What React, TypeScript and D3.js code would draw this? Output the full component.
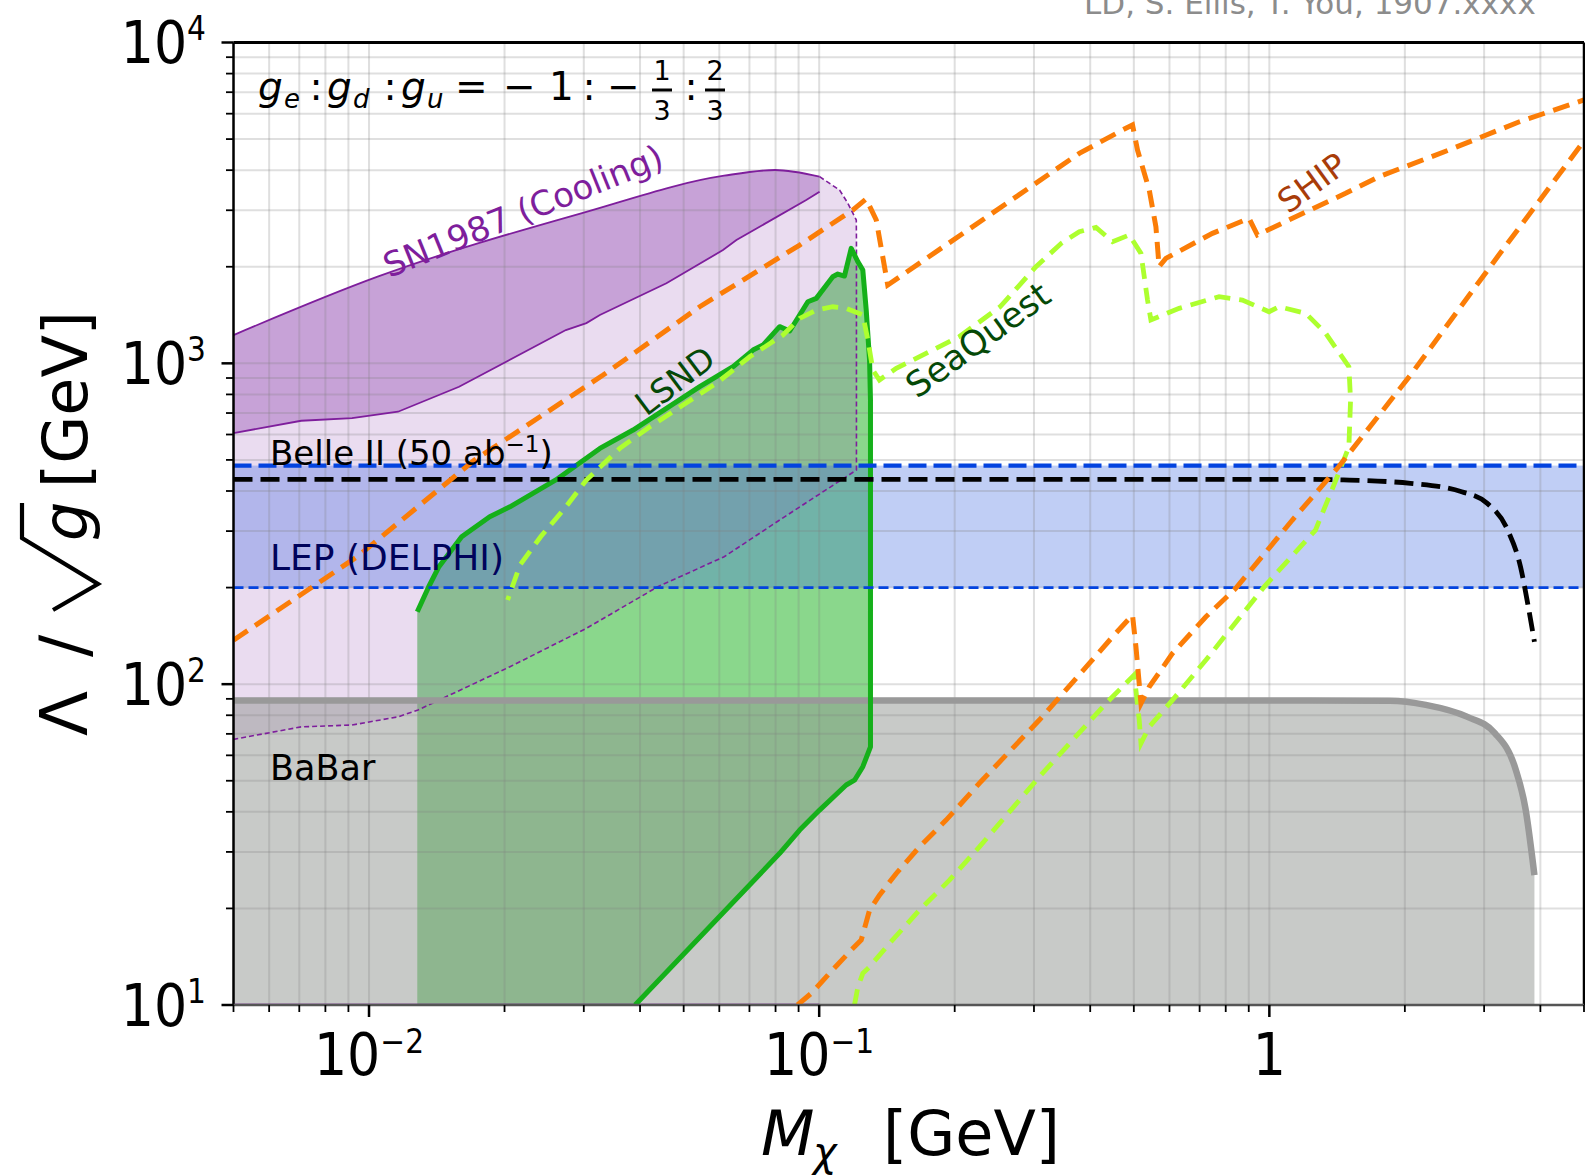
import React from 'react';
import * as d3 from 'd3';

type Pt = [number, number];

// [M_chi (GeV), Lambda / sqrt(g) (GeV)]
const snUpper: Pt[] = [
  [0.005, 1225], [0.01045, 1862], [0.0296, 2935], [0.0615, 3844], [0.0798, 4005], [0.1002, 3817],
];
const snEdge: Pt[] = [
  [0.111, 3469], [0.1158, 3154], [0.1209, 2797], [0.121, 2423], [0.121, 465],
];
const snLower: Pt[] = [
  [0.0817, 324.8], [0.0615, 249.5], [0.0438, 201.2], [0.0304, 149.3], [0.02056, 113.3],
  [0.01285, 83.1], [0.0116, 79.1], [0.00917, 74.6], [0.00707, 73.6], [0.005, 67.3],
];
const snInner: Pt[] = [
  [0.005, 606.3], [0.00707, 662.3], [0.00917, 675.3], [0.0116, 706.5], [0.01585, 845.5],
  [0.02737, 1270], [0.0304, 1335], [0.03257, 1415], [0.04578, 1776], [0.06114, 2255],
  [0.06549, 2423], [0.0936, 3228], [0.1002, 3427],
];

const lsnd: Pt[] = [
  [0.0128, 168.2], [0.01357, 201.2], [0.0143, 232.3], [0.01606, 288], [0.01854, 332.5],
  [0.02056, 357], [0.026, 433], [0.03257, 543], [0.0386, 619.6], [0.04578, 723.9],
  [0.05428, 845.5], [0.06436, 976], [0.07128, 1100], [0.075, 1140], [0.08168, 1301],
  [0.086, 1261], [0.0905, 1415], [0.09438, 1556], [0.09854, 1594], [0.1072, 1862],
  [0.11, 1898], [0.1138, 1871], [0.1178, 2283], [0.1219, 2073], [0.125, 1953],
  [0.1272, 1466], [0.1294, 1024], [0.13, 768], [0.13, 63.8], [0.125, 55.3],
  [0.1198, 50.2], [0.1148, 48.5], [0.1002, 40.5], [0.0905, 35.1], [0.0817, 29.7], [0.039, 10],
];
const lsndFoot: Pt[] = [[0.0128, 10]];

const shipUpper: Pt[] = [
  [0.005, 137.2], [0.00941, 249.5], [0.01715, 499.4], [0.03311, 919.3], [0.05428, 1501],
  [0.0905, 2337], [0.1188, 3006], [0.1272, 3253], [0.1339, 2797], [0.142, 1754],
  [0.3783, 4513], [0.4719, 5337], [0.4966, 5533], [0.5095, 4621], [0.541, 3469],
  [0.5598, 2666], [0.569, 2001], [0.5889, 2124], [0.7475, 2542], [0.9016, 2831],
  [0.9406, 2512], [1.144, 2864], [1.477, 3388], [1.751, 3817], [2.504, 4621],
  [3.581, 5652], [5, 6620],
];
const shipLower: Pt[] = [
  [0.0895, 10], [0.096, 10.87], [0.1054, 12.55], [0.1168, 14.65], [0.124, 15.94],
  [0.1261, 17.34], [0.1294, 19.76], [0.1361, 22.0], [0.1483, 25.7], [0.167, 31.1],
  [0.1914, 37.7], [0.2269, 49.1], [0.3083, 77.3], [0.3981, 116.1], [0.4485, 140.5],
  [0.4966, 164.2], [0.5054, 130.8], [0.5186, 87.1], [0.541, 98.1], [0.6093, 124.7],
  [0.7229, 162.2], [0.842, 198.9], [1.125, 324.8], [1.425, 476], [2.058, 919],
  [3.234, 2176], [5, 4930],
];

const seaQuest: Pt[] = [
  [0.1198, 10], [0.1219, 11.39], [0.125, 12.55], [0.1294, 13.15], [0.1433, 15.56],
  [0.167, 19.76], [0.1947, 24.5], [0.2269, 31.1], [0.3083, 51.4], [0.3655, 66.96],
  [0.4335, 87.1], [0.501, 106.8], [0.514, 77.3], [0.5186, 65.4], [0.541, 73.6],
  [0.6093, 89.2], [0.7229, 118.9], [0.8565, 160.4], [0.9734, 201], [1.266, 302],
  [1.406, 433], [1.502, 549.5], [1.515, 768], [1.502, 976], [1.334, 1240],
  [1.205, 1432], [1.051, 1501], [0.9986, 1448], [0.871, 1575], [0.7734, 1613],
  [0.6305, 1484], [0.5456, 1365], [0.5363, 1575], [0.5186, 2202], [0.4884, 2512],
  [0.4485, 2394], [0.4119, 2654], [0.3783, 2572], [0.345, 2366], [0.3031, 2001],
  [0.2523, 1501], [0.2046, 1210], [0.1483, 965], [0.1361, 887], [0.1316, 953],
  [0.1283, 1182], [0.125, 1415], [0.1148, 1484], [0.1072, 1501], [0.09854, 1466],
  [0.0905, 1381], [0.08308, 1225], [0.07009, 1048], [0.05911, 866.4], [0.04984, 741.3],
  [0.04204, 634], [0.03606, 543], [0.03041, 433], [0.02737, 357], [0.02406, 288],
  [0.02164, 235], [0.02032, 182.9],
];

const belle2: Pt[] = [
  [0.005, 435], [1.2, 435], [1.462, 433], [2.058, 422.6], [2.674, 398], [3.049, 366],
  [3.385, 302], [3.614, 232], [3.761, 174], [3.88, 135.6],
];
const babar: Pt[] = [
  [0.005, 89], [0.937, 89], [1.852, 88.8], [2.226, 86.2], [2.746, 79.2], [3.168, 70.4],
  [3.521, 54.5], [3.708, 40.8], [3.88, 25.4],
];
const babarFoot: Pt[] = [[3.88, 10], [0.005, 10]];

const lepBand = [200, 480];
const snFloor: Pt[] = [[0.005, 10], [0.1, 10]];

const yMajor = [10, 100, 1000, 10000];
const yMajorExp = ['1', '2', '3', '4'];
const xMajor = [0.01, 0.1, 1];
const xMajorBase = ['10', '10', '1'];
const xMajorExp = ['−2', '−1', ''];

const PLOT = { left: 233.5, right: 1584, top: 42.5, bottom: 1005 };
const FONT = "'DejaVu Sans', sans-serif";
const NARROW = "'DejaVu Sans Condensed', 'Liberation Sans Narrow', 'DejaVu Sans', sans-serif";

export default function App() {
  const x = d3.scaleLog().domain([0.005, 5]).range([PLOT.left, PLOT.right]);
  const y = d3.scaleLog().domain([10, 1e4]).range([PLOT.bottom, PLOT.top]);

  const line = d3.line<Pt>().x((d) => x(d[0])).y((d) => y(d[1]));
  const smooth = d3.line<Pt>().x((d) => x(d[0])).y((d) => y(d[1])).curve(d3.curveMonotoneX);
  const lineTo = (pts: Pt[]) => pts.map((d) => `L${x(d[0])},${y(d[1])}`).join('');

  const snLight = smooth(snUpper) + lineTo(snEdge) + lineTo(snLower) + 'Z';
  const snDark = smooth(snUpper) + lineTo([...snInner].reverse()) + 'Z';
  const snDashed = line([snUpper[snUpper.length - 1], ...snEdge, ...snLower]);
  const lsndArea = line(lsnd) + lineTo(lsndFoot) + 'Z';
  const babarArea = smooth(babar) + lineTo(babarFoot) + 'Z';

  const xTicks = x.ticks();
  const yTicks = y.ticks();
  const isMajor = (v: number) => Math.abs(Math.log10(v) - Math.round(Math.log10(v))) < 1e-6;

  return (
    <svg width={1585} height={1175} style={{ position: 'absolute', left: 0, top: 0, background: '#fff' }}>
      <defs>
        <clipPath id="plot-clip">
          <rect x={PLOT.left} y={PLOT.top} width={PLOT.right - PLOT.left} height={PLOT.bottom - PLOT.top} />
        </clipPath>
      </defs>

      <text x={1084} y={14} fontFamily={FONT} fontSize={31} fill="#8c8c8c">LD, S. Ellis, T. You, 1907.xxxx</text>

      <g clipPath="url(#plot-clip)">
        {/* filled regions */}
        <path d={lsndArea} fill="#15b01a" fillOpacity={0.5} />
        <path d={snLight} fill="rgb(150,80,180)" fillOpacity={0.2} />
        <path d={snDark} fill="rgb(150,80,180)" fillOpacity={0.42} />
        <path d={babarArea} fill="#919591" fillOpacity={0.5} />
        <rect x={PLOT.left} width={PLOT.right - PLOT.left} y={y(lepBand[1])} height={y(lepBand[0]) - y(lepBand[1])}
          fill="rgb(65,105,225)" fillOpacity={0.33} />

        {/* grid */}
        {xTicks.map((t, i) => (
          <line key={'gx' + i} x1={x(t)} x2={x(t)} y1={PLOT.top} y2={PLOT.bottom} stroke="#808080" strokeOpacity={0.25} strokeWidth={2} />
        ))}
        {yTicks.map((t, i) => (
          <line key={'gy' + i} x1={PLOT.left} x2={PLOT.right} y1={y(t)} y2={y(t)} stroke="#808080" strokeOpacity={0.25} strokeWidth={2} />
        ))}

        {/* curves */}
        <path d={smooth(snUpper)!} fill="none" stroke="#7e1e9c" strokeWidth={1.8} />
        <path d={line(snInner)!} fill="none" stroke="#7e1e9c" strokeWidth={1.8} />
        <path d={snDashed!} fill="none" stroke="#7e1e9c" strokeWidth={1.6} strokeDasharray="5,3" />
        <path d={line(snFloor)!} fill="none" stroke="#7e1e9c" strokeWidth={3} strokeOpacity={0.6} />
        <path d={smooth(babar)!} fill="none" stroke="#999999" strokeWidth={6.5} />
        <path d={line(lsnd)!} fill="none" stroke="#15b01a" strokeWidth={5} strokeLinejoin="round" />
        <line x1={PLOT.left} x2={PLOT.right} y1={y(lepBand[1])} y2={y(lepBand[1])} stroke="#0343df" strokeWidth={4.2} strokeDasharray="18,7" />
        <line x1={PLOT.left} x2={PLOT.right} y1={y(lepBand[0])} y2={y(lepBand[0])} stroke="#0343df" strokeWidth={2.8} strokeDasharray="10,5" />
        <path d={smooth(belle2)!} fill="none" stroke="#000" strokeWidth={4.8} strokeDasharray="19,8" />
        <path d={line(seaQuest)!} fill="none" stroke="#adff2f" strokeWidth={4.8} strokeDasharray="16,9" />
        <path d={line(shipLower)!} fill="none" stroke="#fb7d07" strokeWidth={5} strokeDasharray="17,9" />
        <path d={line(shipUpper)!} fill="none" stroke="#fb7d07" strokeWidth={5} strokeDasharray="17,9" />
      </g>

      {/* spines */}
      <line x1={PLOT.left} x2={PLOT.right} y1={PLOT.top} y2={PLOT.top} stroke="#000" strokeWidth={3} />
      <line x1={PLOT.left} x2={PLOT.left} y1={PLOT.top} y2={PLOT.bottom} stroke="#000" strokeWidth={2.5} />
      <line x1={PLOT.right} x2={PLOT.right} y1={PLOT.top} y2={PLOT.bottom} stroke="#000" strokeWidth={2.5} />
      <line x1={PLOT.left} x2={PLOT.right} y1={PLOT.bottom} y2={PLOT.bottom} stroke="#555" strokeWidth={2.5} />

      {/* ticks */}
      {yTicks.map((t, i) => (
        <line key={'ty' + i} x1={PLOT.left - (isMajor(t) ? 12 : 7.5)} x2={PLOT.left} y1={y(t)} y2={y(t)}
          stroke="#000" strokeWidth={isMajor(t) ? 2.5 : 1.8} />
      ))}
      {xTicks.map((t, i) => (
        <line key={'tx' + i} x1={x(t)} x2={x(t)} y1={PLOT.bottom} y2={PLOT.bottom + (isMajor(t) ? 12 : 7)}
          stroke="#000" strokeWidth={isMajor(t) ? 2.5 : 1.8} />
      ))}

      {/* tick labels */}
      {yMajor.map((v, i) => (
        <text key={'ly' + i} x={206} y={y(v) + 20.5} textAnchor="end" fontFamily={NARROW} fontSize={58} fill="#000">
          10<tspan fontSize={33} dy={-23}>{yMajorExp[i]}</tspan>
        </text>
      ))}
      {xMajor.map((v, i) => (
        <text key={'lx' + i} x={x(v)} y={1075} textAnchor="middle" fontFamily={NARROW} fontSize={58} fill="#000">
          {xMajorBase[i]}
          {xMajorExp[i] && <tspan fontSize={33} dy={-22}>{xMajorExp[i]}</tspan>}
        </text>
      ))}

      {/* axis labels */}
      <g fontFamily={FONT} fontSize={62} fill="#000">
        <text x={761} y={1155} fontStyle="italic">M</text>
        <text x={813} y={1166} fontStyle="italic" fontSize={40}>χ</text>
        <text x={883} y={1155}>[GeV]</text>

        <text transform="rotate(-90)" x={-736} y={87} fontSize={66}>Λ</text>
        <text transform="rotate(-90)" x={-657} y={87} fontSize={66}>/</text>
        <path d="M53,610 L98,584 L22,538 L22,503" fill="none" stroke="#000" strokeWidth={4.2} />
        <text transform="rotate(-90)" x={-541} y={87} fontStyle="italic">g</text>
        <text transform="rotate(-90)" x={-488} y={87}>[GeV]</text>
      </g>

      {/* coupling ratio */}
      <g fontFamily={FONT} fontSize={39} fill="#000">
        <text x={258} y={100} fontStyle="italic">g</text>
        <text x={284} y={108} fontStyle="italic" fontSize={26}>e</text>
        <text x={316} y={100} textAnchor="middle">:</text>
        <text x={327} y={100} fontStyle="italic">g</text>
        <text x={353} y={108} fontStyle="italic" fontSize={26}>d</text>
        <text x={390} y={100} textAnchor="middle">:</text>
        <text x={401} y={100} fontStyle="italic">g</text>
        <text x={427} y={108} fontStyle="italic" fontSize={26}>u</text>
        <text x={455} y={100}>=</text>
        <text x={503} y={100}>−</text>
        <text x={549} y={100}>1</text>
        <text x={589} y={100} textAnchor="middle">:</text>
        <text x={607} y={100}>−</text>
        <text x={662} y={80} textAnchor="middle" fontSize={27}>1</text>
        <line x1={652} x2={672} y1={90} y2={90} stroke="#000" strokeWidth={3} />
        <text x={662} y={120} textAnchor="middle" fontSize={27}>3</text>
        <text x={691} y={100} textAnchor="middle">:</text>
        <text x={715} y={80} textAnchor="middle" fontSize={27}>2</text>
        <line x1={705} x2={725} y1={90} y2={90} stroke="#000" strokeWidth={3} />
        <text x={715} y={120} textAnchor="middle" fontSize={27}>3</text>
      </g>

      {/* region labels */}
      <g fontFamily={FONT}>
        <text transform="translate(523,211) rotate(-22)" textAnchor="middle" dominantBaseline="central" fontSize={34} fill="#7e1e9c">SN1987 (Cooling)</text>
        <text transform="translate(675,381) rotate(-37)" textAnchor="middle" dominantBaseline="central" fontSize={33} fill="#054907">LSND</text>
        <text transform="translate(978,340) rotate(-36)" textAnchor="middle" dominantBaseline="central" fontSize={35} fill="#054907">SeaQuest</text>
        <text transform="translate(1312,183) rotate(-36)" textAnchor="middle" dominantBaseline="central" fontSize={33} fill="#a83c09">SHIP</text>
        <text x={270} y={465} fontSize={34} fill="#000">
          Belle II (50 ab<tspan fontSize={23} dy={-13}>−1</tspan><tspan dy={13}>)</tspan>
        </text>
        <text x={270} y={570} fontSize={36} fill="#00035b">LEP (DELPHI)</text>
        <text x={270} y={780} fontSize={35} fill="#000">BaBar</text>
      </g>
    </svg>
  );
}
